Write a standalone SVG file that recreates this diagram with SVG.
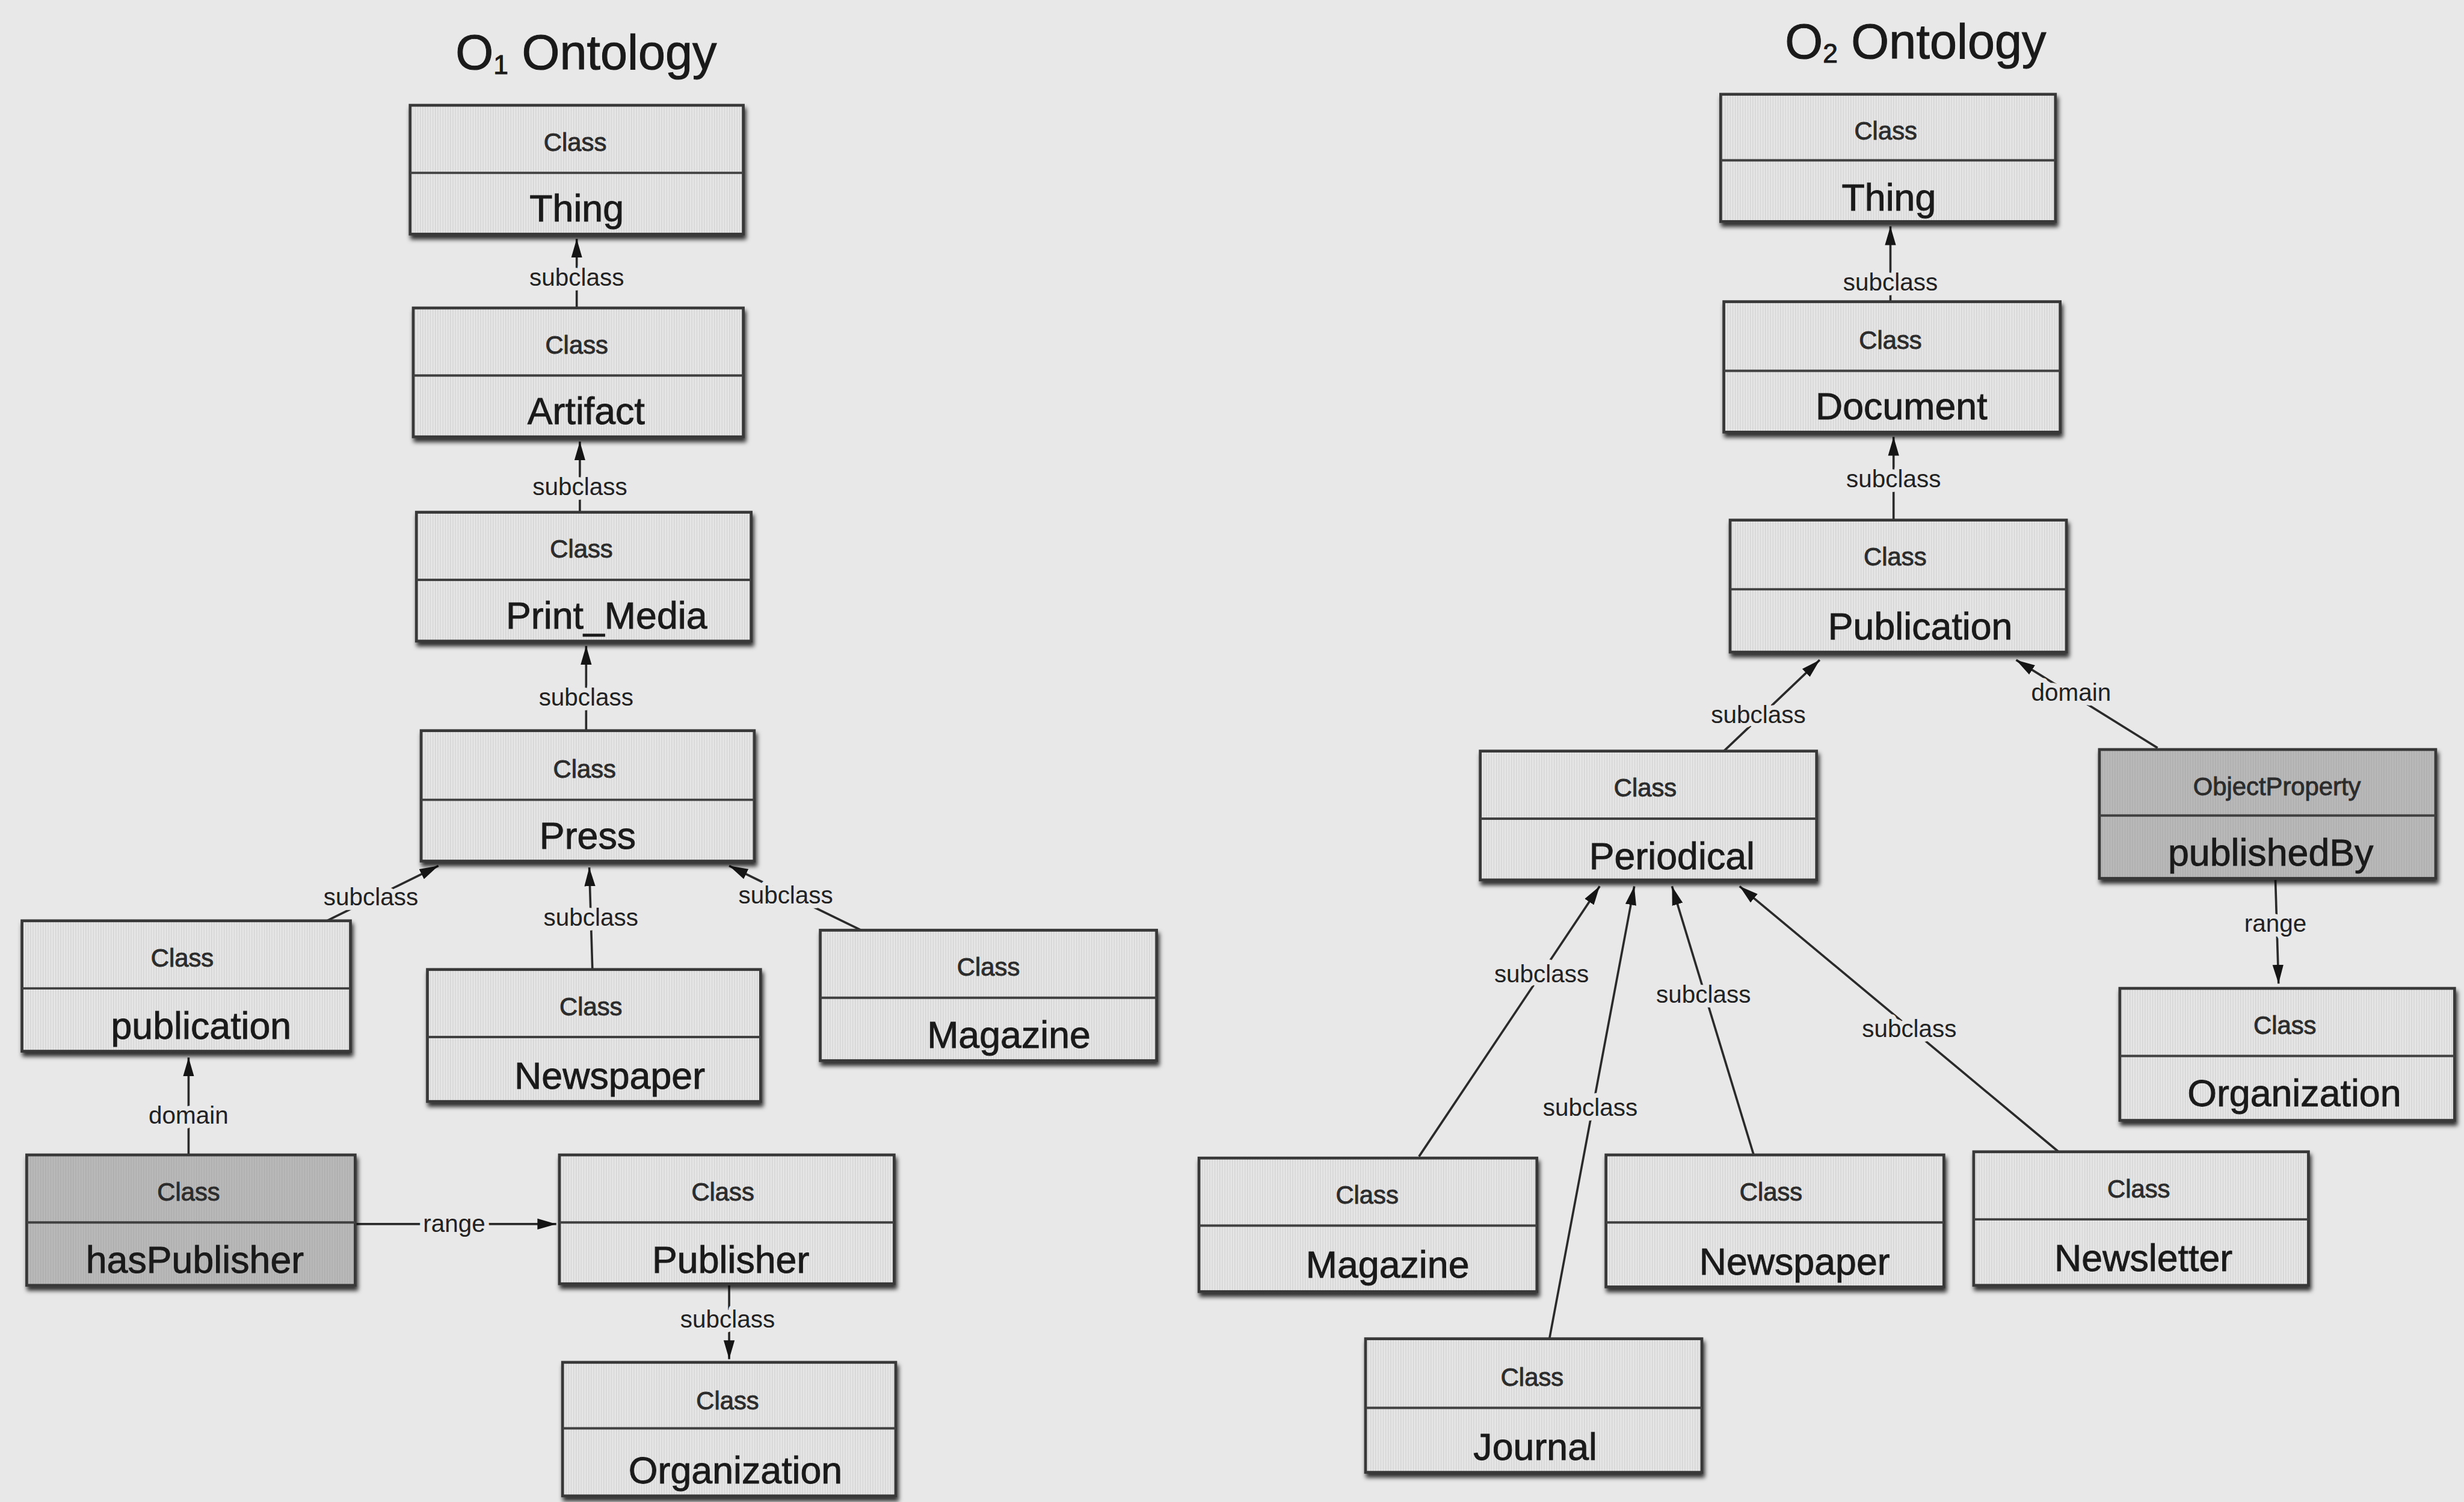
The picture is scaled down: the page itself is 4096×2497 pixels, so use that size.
<svg xmlns="http://www.w3.org/2000/svg" width="4096" height="2497" viewBox="0 0 4096 2497">
  <style>
    .box { fill: url(#hatch); stroke: #383838; stroke-width: 1.8; filter: url(#shadow); }
    .prop { fill: url(#hatchDark); }
    .div { stroke: #404040; stroke-width: 1.5; }
    .kind { font-family: "Liberation Sans", Arial, sans-serif; font-size: 16px; fill: #2c2c2c; stroke: #2c2c2c; stroke-width: 0.35px; text-anchor: middle; }
    .name { font-family: "Liberation Sans", Arial, sans-serif; font-size: 24px; fill: #1a1a1a; stroke: #1a1a1a; stroke-width: 0.35px; text-anchor: middle; }
    .title { font-family: "Liberation Sans", Arial, sans-serif; font-size: 31px; fill: #1a1a1a; stroke: #1a1a1a; stroke-width: 0.4px; text-anchor: middle; }
    .edge { stroke: #2a2a2a; stroke-width: 1.4; fill: none; marker-end: url(#arr); }
    .lbl { font-family: "Liberation Sans", Arial, sans-serif; font-size: 15.5px; fill: #222; text-anchor: middle; paint-order: stroke; stroke: #e8e8e8; stroke-width: 6px; stroke-linejoin: round; }
  </style>
  <defs>
    <pattern id="hatch" width="1.6" height="10" patternUnits="userSpaceOnUse">
      <rect width="1.6" height="10" fill="#e6e6e6"/>
      <rect width="0.5" height="10" fill="#d3d3d3"/>
    </pattern>
    <pattern id="hatchDark" width="1.6" height="10" patternUnits="userSpaceOnUse">
      <rect width="1.6" height="10" fill="#b9b9b9"/>
      <rect width="0.5" height="10" fill="#adadad"/>
    </pattern>
    <filter id="shadow" x="-5%" y="-10%" width="115%" height="130%">
      <feDropShadow dx="1" dy="2.5" stdDeviation="1.4" flood-color="#000" flood-opacity="0.8"/>
    </filter>
    <marker id="arr" viewBox="0 0 12 8" refX="12" refY="4" markerWidth="12" markerHeight="8" orient="auto" markerUnits="userSpaceOnUse">
      <path d="M0,0.5 L12,4 L0,7.5 z" fill="#151515"/>
    </marker>
  </defs>

  <rect width="4096" height="2497" fill="#e8e8e8"/>

  <g transform="scale(2.61224)">
    <!-- headings -->
    <text class="title" x="373" y="44">O<tspan font-size="17" dy="3">1</tspan><tspan dy="-3"> Ontology</tspan></text>
    <text class="title" x="1219" y="37">O<tspan font-size="17" dy="3">2</tspan><tspan dy="-3"> Ontology</tspan></text>

    <!-- connectors -->
    <g id="connectors">
      <!-- O1 -->
      <line class="edge" x1="367" y1="196" x2="367" y2="152"/>
      <line class="edge" x1="369" y1="326" x2="369" y2="281"/>
      <line class="edge" x1="373" y1="465" x2="373" y2="411"/>
      <line class="edge" x1="377" y1="617" x2="375" y2="552"/>
      <line class="edge" x1="208" y1="586" x2="279" y2="551"/>
      <line class="edge" x1="548" y1="592" x2="464" y2="551"/>
      <line class="edge" x1="120" y1="735" x2="120" y2="673"/>
      <line class="edge" x1="226" y1="779" x2="354" y2="779"/>
      <line class="edge" x1="464" y1="818" x2="464" y2="865"/>
      <!-- O2 -->
      <line class="edge" x1="1203" y1="192" x2="1203" y2="144"/>
      <line class="edge" x1="1205" y1="331" x2="1205" y2="278"/>
      <line class="edge" x1="1097" y1="478" x2="1158" y2="420"/>
      <line class="edge" x1="1373" y1="476" x2="1283" y2="420"/>
      <line class="edge" x1="1448" y1="560" x2="1450" y2="626"/>
      <line class="edge" x1="903" y1="736" x2="1018" y2="564"/>
      <line class="edge" x1="986" y1="852" x2="1040" y2="564"/>
      <line class="edge" x1="1116" y1="735" x2="1064" y2="564"/>
      <line class="edge" x1="1310" y1="733" x2="1107" y2="564"/>

      <text class="lbl" x="367" y="182">subclass</text>
      <text class="lbl" x="369" y="315">subclass</text>
      <text class="lbl" x="373" y="449">subclass</text>
      <text class="lbl" x="376" y="589">subclass</text>
      <text class="lbl" x="236" y="576">subclass</text>
      <text class="lbl" x="500" y="575">subclass</text>
      <text class="lbl" x="120" y="715">domain</text>
      <text class="lbl" x="289" y="784">range</text>
      <text class="lbl" x="463" y="845">subclass</text>

      <text class="lbl" x="1203" y="185">subclass</text>
      <text class="lbl" x="1205" y="310">subclass</text>
      <text class="lbl" x="1119" y="460">subclass</text>
      <text class="lbl" x="1318" y="446">domain</text>
      <text class="lbl" x="1448" y="593">range</text>
      <text class="lbl" x="981" y="625">subclass</text>
      <text class="lbl" x="1012" y="710">subclass</text>
      <text class="lbl" x="1084" y="638">subclass</text>
      <text class="lbl" x="1215" y="660">subclass</text>
    </g>

    <!-- O1 ontology classes -->
    <g id="o1-thing">
      <rect class="box" x="261" y="67" width="212" height="82"/>
      <line class="div" x1="261" y1="110" x2="473" y2="110"/>
      <text class="kind" x="366" y="96">Class</text>
      <text class="name" x="367" y="141">Thing</text>
    </g>
    <g id="o1-artifact">
      <rect class="box" x="263" y="196" width="210" height="82"/>
      <line class="div" x1="263" y1="239" x2="473" y2="239"/>
      <text class="kind" x="367" y="225">Class</text>
      <text class="name" x="373" y="270">Artifact</text>
    </g>
    <g id="o1-print-media">
      <rect class="box" x="265" y="326" width="213" height="82"/>
      <line class="div" x1="265" y1="369" x2="478" y2="369"/>
      <text class="kind" x="370" y="355">Class</text>
      <text class="name" x="386" y="400">Print_Media</text>
    </g>
    <g id="o1-press">
      <rect class="box" x="268" y="465" width="212" height="83"/>
      <line class="div" x1="268" y1="509" x2="480" y2="509"/>
      <text class="kind" x="372" y="495">Class</text>
      <text class="name" x="374" y="540">Press</text>
    </g>
    <g id="o1-publication">
      <rect class="box" x="14" y="586" width="209" height="83"/>
      <line class="div" x1="14" y1="629" x2="223" y2="629"/>
      <text class="kind" x="116" y="615">Class</text>
      <text class="name" x="128" y="661">publication</text>
    </g>
    <g id="o1-newspaper">
      <rect class="box" x="272" y="617" width="212" height="84"/>
      <line class="div" x1="272" y1="660" x2="484" y2="660"/>
      <text class="kind" x="376" y="646">Class</text>
      <text class="name" x="388" y="693">Newspaper</text>
    </g>
    <g id="o1-magazine">
      <rect class="box" x="522" y="592" width="214" height="83"/>
      <line class="div" x1="522" y1="635" x2="736" y2="635"/>
      <text class="kind" x="629" y="621">Class</text>
      <text class="name" x="642" y="667">Magazine</text>
    </g>
    <g id="o1-haspublisher">
      <rect class="box prop" x="17" y="735" width="209" height="83"/>
      <line class="div" x1="17" y1="778" x2="226" y2="778"/>
      <text class="kind" x="120" y="764">Class</text>
      <text class="name" x="124" y="810">hasPublisher</text>
    </g>
    <g id="o1-publisher">
      <rect class="box" x="356" y="735" width="213" height="82"/>
      <line class="div" x1="356" y1="778" x2="569" y2="778"/>
      <text class="kind" x="460" y="764">Class</text>
      <text class="name" x="465" y="810">Publisher</text>
    </g>
    <g id="o1-organization">
      <rect class="box" x="358" y="867" width="212" height="85"/>
      <line class="div" x1="358" y1="909" x2="570" y2="909"/>
      <text class="kind" x="463" y="897">Class</text>
      <text class="name" x="468" y="944">Organization</text>
    </g>

    <!-- O2 ontology classes -->
    <g id="o2-thing">
      <rect class="box" x="1095" y="60" width="213" height="81"/>
      <line class="div" x1="1095" y1="102" x2="1308" y2="102"/>
      <text class="kind" x="1200" y="89">Class</text>
      <text class="name" x="1202" y="134">Thing</text>
    </g>
    <g id="o2-document">
      <rect class="box" x="1097" y="192" width="214" height="83"/>
      <line class="div" x1="1097" y1="236" x2="1311" y2="236"/>
      <text class="kind" x="1203" y="222">Class</text>
      <text class="name" x="1210" y="267">Document</text>
    </g>
    <g id="o2-publication">
      <rect class="box" x="1101" y="331" width="214" height="84"/>
      <line class="div" x1="1101" y1="375" x2="1315" y2="375"/>
      <text class="kind" x="1206" y="360">Class</text>
      <text class="name" x="1222" y="407">Publication</text>
    </g>
    <g id="o2-periodical">
      <rect class="box" x="942" y="478" width="214" height="82"/>
      <line class="div" x1="942" y1="521" x2="1156" y2="521"/>
      <text class="kind" x="1047" y="507">Class</text>
      <text class="name" x="1064" y="553">Periodical</text>
    </g>
    <g id="o2-publishedby">
      <rect class="box prop" x="1336" y="477" width="214" height="82"/>
      <line class="div" x1="1336" y1="519" x2="1550" y2="519"/>
      <text class="kind" x="1449" y="506" font-size="14.5">ObjectProperty</text>
      <text class="name" x="1445" y="551">publishedBy</text>
    </g>
    <g id="o2-organization">
      <rect class="box" x="1349" y="629" width="213" height="84"/>
      <line class="div" x1="1349" y1="672" x2="1562" y2="672"/>
      <text class="kind" x="1454" y="658">Class</text>
      <text class="name" x="1460" y="704">Organization</text>
    </g>
    <g id="o2-magazine">
      <rect class="box" x="763" y="737" width="215" height="85"/>
      <line class="div" x1="763" y1="780" x2="978" y2="780"/>
      <text class="kind" x="870" y="766">Class</text>
      <text class="name" x="883" y="813">Magazine</text>
    </g>
    <g id="o2-newspaper">
      <rect class="box" x="1022" y="735" width="215" height="84"/>
      <line class="div" x1="1022" y1="778" x2="1237" y2="778"/>
      <text class="kind" x="1127" y="764">Class</text>
      <text class="name" x="1142" y="811">Newspaper</text>
    </g>
    <g id="o2-newsletter">
      <rect class="box" x="1256" y="733" width="213" height="85"/>
      <line class="div" x1="1256" y1="776" x2="1469" y2="776"/>
      <text class="kind" x="1361" y="762">Class</text>
      <text class="name" x="1364" y="809">Newsletter</text>
    </g>
    <g id="o2-journal">
      <rect class="box" x="869" y="852" width="214" height="85"/>
      <line class="div" x1="869" y1="896" x2="1083" y2="896"/>
      <text class="kind" x="975" y="882">Class</text>
      <text class="name" x="977" y="929">Journal</text>
    </g>
  </g>
</svg>
